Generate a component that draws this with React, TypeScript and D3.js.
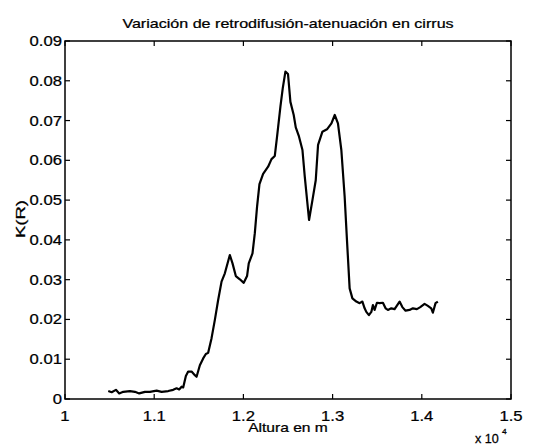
import React from 'react';
import * as d3 from 'd3';

const altura = [
  10485, 10523, 10571, 10608, 10653, 10728, 10784, 10832, 10896, 10952,
  11027, 11083, 11157, 11213, 11251, 11280, 11307, 11325, 11355, 11381,
  11419, 11456, 11475, 11512, 11549, 11579, 11605, 11643, 11680, 11717,
  11755, 11792, 11848, 11878, 11915, 11960, 12004, 12041, 12060, 12102,
  12128, 12153, 12180, 12221, 12277, 12315, 12352, 12377, 12415, 12441,
  12471, 12500, 12527, 12564, 12587, 12623, 12662, 12688, 12736, 12774,
  12811, 12837, 12886, 12937, 12987, 13024, 13060, 13098, 13135, 13161,
  13191, 13222, 13266, 13303, 13334, 13359, 13378, 13407, 13434, 13452,
  13471, 13497, 13527, 13564, 13594, 13620, 13658, 13695, 13751, 13782,
  13818, 13863, 13900, 13945, 13983, 14031, 14068, 14106, 14124, 14154,
  14180,
];

const kr = [
  0.0020, 0.0017, 0.0023, 0.0014, 0.0018, 0.0020, 0.0018, 0.0014, 0.0018, 0.0018,
  0.0021, 0.0018, 0.0020, 0.0023, 0.0027, 0.0024, 0.0031, 0.0029, 0.0058, 0.0069,
  0.0069, 0.0060, 0.0056, 0.0085, 0.0102, 0.0113, 0.0116, 0.0153, 0.0199, 0.0249,
  0.0295, 0.0316, 0.0362, 0.0341, 0.0309, 0.0301, 0.0292, 0.0309, 0.0341, 0.0366,
  0.0417, 0.0483, 0.0540, 0.0566, 0.0584, 0.0603, 0.0611, 0.0659, 0.0735, 0.0781,
  0.0823, 0.0817, 0.0747, 0.0714, 0.0683, 0.0660, 0.0626, 0.0559, 0.0450, 0.0500,
  0.0550, 0.0639, 0.0672, 0.0678, 0.0693, 0.0714, 0.0693, 0.0626, 0.0509, 0.0400,
  0.0278, 0.0253, 0.0245, 0.0241, 0.0245, 0.0228, 0.0219, 0.0211, 0.0219, 0.0236,
  0.0224, 0.0242, 0.0241, 0.0242, 0.0228, 0.0224, 0.0228, 0.0226, 0.0245, 0.0231,
  0.0222, 0.0224, 0.0228, 0.0226, 0.0231, 0.0239, 0.0234, 0.0228, 0.0217, 0.0241,
  0.0245,
];

const xTicks = [10000, 11000, 12000, 13000, 14000, 15000];
const xTickLabels = ['1', '1.1', '1.2', '1.3', '1.4', '1.5'];
const yTicks = [0, 0.01, 0.02, 0.03, 0.04, 0.05, 0.06, 0.07, 0.08, 0.09];
const yTickLabels = ['0', '0.01', '0.02', '0.03', '0.04', '0.05', '0.06', '0.07', '0.08', '0.09'];

const titleText = 'Variación de retrodifusión-atenuación en cirrus';
const xLabel = 'Altura en m';
const yLabel = 'K(R)';
const xMultiplier = 'x 10';
const xExponent = '4';

const FONT = '"Liberation Sans", Arial, Helvetica, sans-serif';

function T(props: { x: number; y: number; anchor?: string; size: number; sx?: number; children: React.ReactNode }) {
  const { x, y, anchor = 'start', size, sx = 1.2, children } = props;
  return (
    <text
      transform={`translate(${x},${y}) scale(${sx},1)`}
      textAnchor={anchor as any}
      fontSize={size}
      fontFamily={FONT}
      fill="#000"
      stroke="#000"
      strokeWidth={0.25}
    >
      {children}
    </text>
  );
}

export default function App() {
  const W = 536;
  const H = 446;
  const left = 65, right = 511, top = 41, bottom = 399;
  const x = d3.scaleLinear().domain([10000, 15000]).range([left, right]);
  const y = d3.scaleLinear().domain([0, 0.09]).range([bottom, top]);
  const pts: [number, number][] = altura.map((a, i) => [a, kr[i]]);
  const line = d3.line<[number, number]>().x(d => x(d[0])).y(d => y(d[1]));
  const tl = 5;

  return (
    <svg width={W} height={H} style={{ position: 'absolute', left: 0, top: 0, background: '#fff' }}>
      <rect x={0} y={0} width={W} height={H} fill="#fff" />
      <T x={288} y={28} anchor="middle" size={13.4}>{titleText}</T>
      {xTicks.map((t, i) => (
        <g key={'xt' + i}>
          <line x1={x(t)} x2={x(t)} y1={bottom} y2={bottom - tl} stroke="#000" strokeWidth={1.2} />
          <line x1={x(t)} x2={x(t)} y1={top} y2={top + tl} stroke="#000" strokeWidth={1.2} />
          <T x={x(t)} y={421} anchor="middle" size={14.5} sx={1.15}>{xTickLabels[i]}</T>
        </g>
      ))}
      {yTicks.map((t, i) => (
        <g key={'yt' + i}>
          <line x1={left} x2={left + tl} y1={y(t)} y2={y(t)} stroke="#000" strokeWidth={1.2} />
          <line x1={right} x2={right - tl} y1={y(t)} y2={y(t)} stroke="#000" strokeWidth={1.2} />
          <T x={62} y={y(t) + 5} anchor="end" size={14.5} sx={1.15}>{yTickLabels[i]}</T>
        </g>
      ))}
      <rect x={left} y={top} width={right - left} height={bottom - top} fill="none" stroke="#000" strokeWidth={1.5} />
      <path d={line(pts) || ''} fill="none" stroke="#000" strokeWidth={2.2} strokeLinejoin="round" />
      <T x={288} y={432} anchor="middle" size={13}>{xLabel}</T>
      <g transform="translate(25,219) rotate(-90)">
        <text textAnchor="middle" fontSize={13.5} fontFamily={FONT} fill="#000" stroke="#000" strokeWidth={0.25} textLength={38} lengthAdjust="spacingAndGlyphs">{yLabel}</text>
      </g>
      <T x={475} y={443} size={12} sx={1.05}>{xMultiplier}</T>
      <T x={502} y={434} size={8} sx={1.05}>{xExponent}</T>
    </svg>
  );
}
